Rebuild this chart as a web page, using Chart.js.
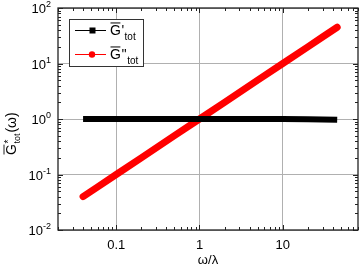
<!DOCTYPE html>
<html>
<head>
<meta charset="utf-8">
<script src="https://cdn.jsdelivr.net/npm/chart.js@4/dist/chart.umd.min.js"></script>
<style>
  html, body { margin: 0; padding: 0; background: #fff; }
  #wrap { width: 360px; height: 269px; }
</style>
</head>
<body>
<div id="wrap"><canvas id="c"></canvas></div>
<script>
// reduced frequency omega/lambda
const omega = [0.04, 0.06, 0.1, 0.2, 0.5, 1, 2, 5, 10, 20, 30, 45];
// storage modulus G'tot (flat, slight drop at the end)
const gStorage = [1.0, 1.0, 1.0, 1.0, 1.0, 1.0, 1.0, 1.0, 1.0, 0.99, 0.98, 0.965];
// loss modulus G''tot
const gLoss = [0.04, 0.06, 0.1, 0.2, 0.5, 1, 2, 5, 10, 20, 30, 45];

const xTicks = [0.1, 1, 10];
const yTicks = [0.01, 0.1, 1, 10, 100];
const yExps = ['-2', '-1', '0', '1', '2'];

const FONT = '"Liberation Sans", Arial, sans-serif';

// draws G with overline, then primes and a subscript
function barG(ctx, x, y, size, sup, sub) {
  ctx.font = size + 'px ' + FONT;
  ctx.fillText('G', x, y);
  const w = ctx.measureText('G').width;
  ctx.beginPath();
  ctx.lineWidth = 1;
  ctx.moveTo(x + 0.5, y - size * 0.86);
  ctx.lineTo(x + w - 0.5, y - size * 0.86);
  ctx.stroke();
  ctx.fillText(sup, x + w + 0.5, y);
  const sw = ctx.measureText(sup).width;
  ctx.font = Math.round(size * 0.68) + 'px ' + FONT;
  ctx.fillText(sub, x + w + sw + 1, y + 5);
}

const decor = {
  id: 'decor',
  afterDraw(chart) {
    const ctx = chart.ctx;
    const a = chart.chartArea;
    const xs = chart.scales.x, ys = chart.scales.y;
    ctx.save();
    ctx.strokeStyle = '#222';
    ctx.fillStyle = '#000';

    // frame
    ctx.lineWidth = 1.3;
    ctx.strokeRect(a.left, a.top, a.right - a.left, a.bottom - a.top);

    // inward ticks on all four sides
    ctx.lineWidth = 1;
    ctx.beginPath();
    for (let d = -3; d <= 2; d++) {
      for (let m = 1; m <= 9; m++) {
        const v = m * Math.pow(10, d);
        const len = m === 1 ? 5 : 3;
        if (v >= xs.min && v <= xs.max) {
          const px = Math.round(xs.getPixelForValue(v)) + 0.5;
          ctx.moveTo(px, a.bottom); ctx.lineTo(px, a.bottom - len);
          ctx.moveTo(px, a.top); ctx.lineTo(px, a.top + len);
        }
        if (v >= ys.min && v <= ys.max) {
          const py = Math.round(ys.getPixelForValue(v)) + 0.5;
          ctx.moveTo(a.left, py); ctx.lineTo(a.left + len, py);
          ctx.moveTo(a.right, py); ctx.lineTo(a.right - len, py);
        }
      }
    }
    ctx.stroke();

    // y tick labels 10^n
    ctx.textAlign = 'right';
    ctx.textBaseline = 'alphabetic';
    yTicks.forEach((v, i) => {
      const py = ys.getPixelForValue(v);
      ctx.font = '9px ' + FONT;
      const ew = ctx.measureText(yExps[i]).width;
      ctx.fillText(yExps[i], 51, py - 1);
      ctx.font = '13px ' + FONT;
      ctx.fillText('10', 51 - ew, py + 5);
    });

    // y axis title
    ctx.textAlign = 'left';
    ctx.save();
    ctx.translate(16, 155);
    ctx.rotate(-Math.PI / 2);
    ctx.font = '14px ' + FONT;
    ctx.fillText('G', 0, 0);
    const gw = ctx.measureText('G').width;
    ctx.beginPath();
    ctx.moveTo(0.5, -12); ctx.lineTo(gw - 0.5, -12); ctx.stroke();
    ctx.font = '10px ' + FONT;
    ctx.fillText('*', gw + 0.5, -4);
    ctx.font = '9px ' + FONT;
    ctx.fillText('tot', gw + 0.5, 4);
    const tw = ctx.measureText('tot').width;
    ctx.font = '14px ' + FONT;
    ctx.fillText('(ω)', gw + tw + 1.5, 0);
    ctx.restore();

    // legend
    const lx = 69.5, ly = 19.5, lw = 74, lh = 47;
    ctx.fillStyle = '#fff';
    ctx.fillRect(lx, ly, lw, lh);
    ctx.strokeStyle = '#333';
    ctx.lineWidth = 1;
    ctx.strokeRect(lx, ly, lw, lh);
    const rows = [
      { ds: chart.data.datasets[0], y: 30, sup: "'", shape: 'rect' },
      { ds: chart.data.datasets[1], y: 54, sup: "''", shape: 'circle' }
    ];
    rows.forEach(r => {
      ctx.strokeStyle = r.ds.borderColor;
      ctx.fillStyle = r.ds.borderColor;
      ctx.lineWidth = 1;
      ctx.beginPath();
      ctx.moveTo(75, r.y + 0.5); ctx.lineTo(106, r.y + 0.5); ctx.stroke();
      if (r.shape === 'rect') {
        ctx.fillRect(89.5, r.y - 2.5, 6, 6);
      } else {
        ctx.beginPath(); ctx.arc(92, r.y + 0.5, 3.2, 0, Math.PI * 2); ctx.fill();
      }
      ctx.fillStyle = '#000';
      ctx.strokeStyle = '#000';
      barG(ctx, 110, r.y + 5, 14, r.sup, 'tot');
    });
    ctx.restore();
  }
};

new Chart(document.getElementById('c'), {
  type: 'line',
  data: {
    datasets: [
      {
        label: "G'tot",
        data: omega.map((x, i) => ({ x: x, y: gStorage[i] })),
        borderColor: '#000',
        backgroundColor: '#000',
        borderWidth: 6,
        borderCapStyle: 'butt',
        pointRadius: 0,
        tension: 0,
        fill: false
      },
      {
        label: "G''tot",
        data: omega.map((x, i) => ({ x: x, y: gLoss[i] })),
        borderColor: '#ff0000',
        backgroundColor: '#ff0000',
        borderWidth: 7,
        borderCapStyle: 'round',
        pointRadius: 0,
        tension: 0,
        fill: false
      }
    ]
  },
  options: {
    responsive: true,
    maintainAspectRatio: false,
    animation: false,
    layout: { padding: { top: 8, right: 2, left: 0, bottom: 0 } },
    plugins: { legend: { display: false }, tooltip: { enabled: false } },
    scales: {
      x: {
        type: 'logarithmic',
        min: 0.02,
        max: 80,
        afterBuildTicks: s => { s.ticks = xTicks.map(v => ({ value: v })); },
        afterFit: s => { s.height = 39; },
        border: { display: false },
        grid: { color: '#b0b0b0', lineWidth: 1, drawTicks: false },
        ticks: {
          color: '#000',
          padding: 8,
          maxRotation: 0,
          autoSkip: false,
          font: { family: FONT, size: 13 },
          callback: v => String(v)
        },
        title: {
          display: true,
          text: 'ω/λ',
          color: '#000',
          font: { family: FONT, size: 13 },
          padding: { top: 0, bottom: 1 }
        }
      },
      y: {
        type: 'logarithmic',
        min: 0.01,
        max: 100,
        afterBuildTicks: s => { s.ticks = yTicks.map(v => ({ value: v })); },
        afterFit: s => { s.width = 58; },
        border: { display: false },
        grid: { color: '#b0b0b0', lineWidth: 1, drawTicks: false },
        ticks: { display: false }
      }
    }
  },
  plugins: [decor]
});
</script>
</body>
</html>
